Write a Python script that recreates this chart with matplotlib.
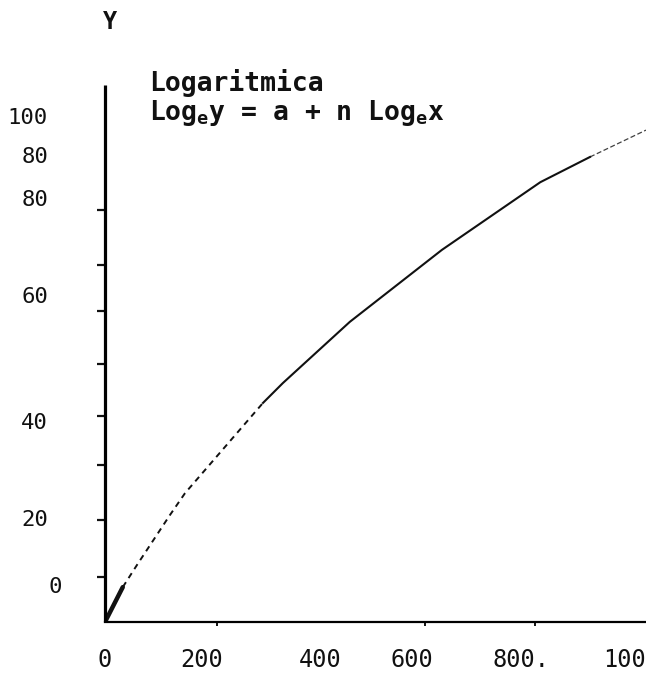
import matplotlib
matplotlib.use("Agg")
import matplotlib.pyplot as plt
import matplotlib.transforms as mtransforms

# Power-law curve (y = a * x^n)
x_curve = [0, 34, 61, 124, 153, 302, 340, 468, 644, 832, 927, 1034]
y_curve = [0, 6.5, 10.6, 19.9, 24.0, 40.8, 44.5, 55.9, 69.3, 81.9, 86.6, 91.6]

# Axis labels as printed
x_tick_pos = [0, 185, 411, 587, 795, 993]
x_tick_labels = ["0", "200", "400", "600", "800.", "100"]
x_marks = [214, 411, 612, 822]

y_label_pos = [93.8, 86.6, 78.6, 60.5, 37.1, 19.0, 6.5]
y_label_text = ["100", "80", "80", "60", "40", "20", "0"]
y_marks = [76.7, 66.5, 57.9, 48.0, 38.4, 29.2, 19.0, 8.4]

W, H = 646, 673
fig = plt.figure(figsize=(W / 100, H / 100), dpi=100)
fig.patch.set_facecolor("white")
ax = fig.add_axes([105 / W, (H - 622) / H, (W - 105) / W, (622 - 85) / H])
ax.set_xlim(0, 1034)
ax.set_ylim(0, 100)
for s in ("top", "right"):
    ax.spines[s].set_visible(False)
ax.spines["left"].set_linewidth(2.3)
ax.spines["bottom"].set_linewidth(1.6)
ax.spines["left"].set_capstyle("butt")

ink = "#111111"
font = "DejaVu Sans Mono"
plt.rcParams["mathtext.fontset"] = "dejavusans"

# curve: heavy start, broken stretch, solid body, faint dashed tail
ax.plot(x_curve[:2], y_curve[:2], color=ink, lw=3.2, solid_capstyle="round")
ax.plot(x_curve[1:6], y_curve[1:6], color=ink, lw=1.4, ls=(0, (3, 2.5)))
ax.plot(x_curve[5:11], y_curve[5:11], color=ink, lw=1.5)
ax.plot(x_curve[10:], y_curve[10:], color=ink, lw=0.9, ls=(0, (4, 2)), alpha=0.8)

# x axis labels and marks
ax.set_xticks(x_tick_pos, x_tick_labels)
ax.set_xticks(x_marks, minor=True)
ax.tick_params(axis="x", which="major", length=0, pad=19, labelsize=17,
               labelcolor=ink)
ax.tick_params(axis="x", which="minor", length=3, width=1.4, direction="out",
               color=ink)
for lab in ax.get_xticklabels():
    lab.set_fontfamily(font)

# y axis marks (labels are set separately, they do not sit on the marks)
ax.set_yticks([])
ax.set_yticks(y_marks, minor=True)
ax.tick_params(axis="y", which="minor", length=6, width=1.6, direction="out",
               color=ink)

trans = mtransforms.blended_transform_factory(fig.transFigure, ax.transData)
for pos, txt in zip(y_label_pos, y_label_text):
    xr = 62 if txt == "0" else 48
    ax.text(xr / W, pos, txt, transform=trans, ha="right", va="center",
            fontsize=16, color=ink, family=font, clip_on=False)

fig.text(110 / W, 1 - 22 / H, "Y", ha="center", va="center", fontsize=17,
         color=ink, family=font, fontweight="bold")

fig.text(149 / W, 1 - 83 / H, "Logaritmica", ha="left", va="center",
         fontsize=19, color=ink, family=font, fontweight="bold")
fig.text(149 / W, 1 - 113 / H,
         r"Log$_\mathregular{e}$y = a + n Log$_\mathregular{e}$x",
         ha="left", va="center", fontsize=19, color=ink, family=font,
         fontweight="bold")

fig.savefig("out.png", dpi=100, facecolor="white")
